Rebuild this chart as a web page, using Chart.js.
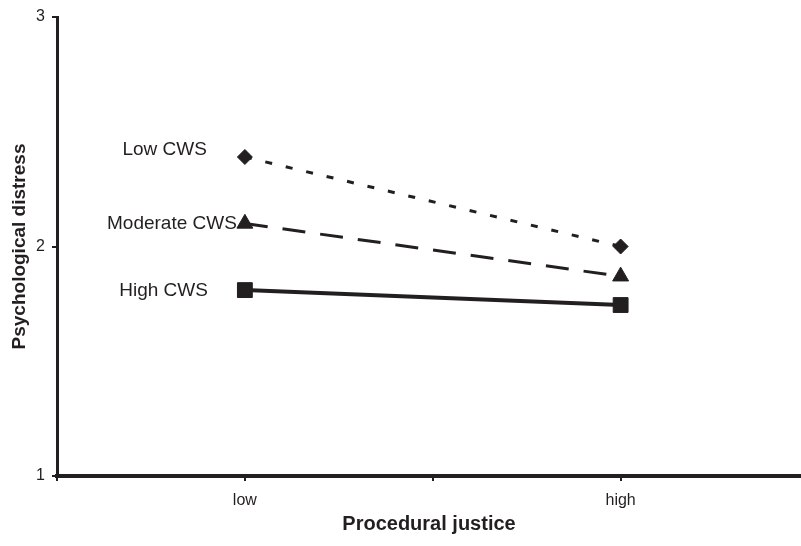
<!DOCTYPE html>
<html>
<head>
<meta charset="utf-8">
<script src="https://cdn.jsdelivr.net/npm/chart.js@4"></script>
<style>
  html, body { margin: 0; padding: 0; background: #fff; }
  #wrap { width: 801px; height: 546px; }
</style>
</head>
<body>
<div id="wrap"><canvas id="myChart"></canvas></div>
<script>
// values
const categories = ["low", "high"];
const categoryX = [1, 3];
const xTickValues = [0, 1, 2, 3];
const xTickLabels = ["", "low", "", "high"];
const yTickValues = [1, 2, 3];

const seriesNames = ["Low CWS", "Moderate CWS", "High CWS"];
const lowCWS = [2.39, 2.00];
const moderateCWS = [2.10, 1.87];
const highCWS = [1.81, 1.745];

const ink = "#231f20";
const font = "'Liberation Sans', Arial, sans-serif";

function points(values) {
    return values.map((v, i) => ({ x: categoryX[i], y: v }));
}

// draws the series names left of the first point of each line
const seriesLabels = {
    id: "seriesLabels",
    afterDatasetsDraw(chart, args, opts) {
        const ctx = chart.ctx;
        ctx.save();
        ctx.font = "19px " + font;
        ctx.fillStyle = ink;
        ctx.textAlign = "right";
        ctx.textBaseline = "middle";
        chart.data.datasets.forEach((ds, i) => {
            const pt = chart.getDatasetMeta(i).data[0];
            const off = opts.offsets[i];
            ctx.fillText(ds.label, pt.x - off[0], pt.y + off[1]);
        });
        ctx.restore();
    }
};

new Chart("myChart", {
    type: "scatter",
    data: {
        datasets: [{
            label: seriesNames[0],
            data: points(lowCWS),
            showLine: true,
            borderColor: ink,
            backgroundColor: ink,
            borderWidth: 3,
            borderDash: [7, 14],
            pointStyle: "rectRot",
            pointRadius: 7.5,
            pointBorderWidth: 1
        }, {
            label: seriesNames[1],
            data: points(moderateCWS),
            showLine: true,
            borderColor: ink,
            backgroundColor: ink,
            borderWidth: 3,
            borderDash: [23, 15],
            pointStyle: "triangle",
            pointRadius: 9.2,
            pointBorderWidth: 1
        }, {
            label: seriesNames[2],
            data: points(highCWS),
            showLine: true,
            borderColor: ink,
            backgroundColor: ink,
            borderWidth: 4,
            pointStyle: "rect",
            pointRadius: 10.5,
            pointBorderWidth: 1
        }]
    },
    options: {
        responsive: true,
        maintainAspectRatio: false,
        animation: false,
        layout: { autoPadding: false, padding: { top: 17, right: 0, left: 0, bottom: 0 } },
        plugins: {
            legend: { display: false },
            tooltip: { enabled: false },
            seriesLabels: { offsets: [[38, -7], [8, 0], [37, 1]] }
        },
        scales: {
            x: {
                type: "linear",
                min: 0,
                max: 3.96,
                afterBuildTicks: (scale) => {
                    scale.ticks = xTickValues.map(v => ({ value: v }));
                },
                afterFit: (scale) => { scale.height = 70; },
                ticks: {
                    callback: (v) => xTickLabels[xTickValues.indexOf(v)] || "",
                    color: ink,
                    font: { family: font, size: 16 },
                    padding: 10,
                    maxRotation: 0
                },
                grid: {
                    drawOnChartArea: false,
                    drawTicks: true,
                    tickLength: 5,
                    lineWidth: 2,
                    color: ink
                },
                border: { display: true, color: ink, width: 4 },
                title: {
                    display: true,
                    text: "Procedural justice",
                    color: ink,
                    font: { family: font, size: 20, weight: "bold" },
                    padding: { top: 0, bottom: 10 }
                }
            },
            y: {
                min: 1,
                max: 3,
                afterBuildTicks: (scale) => {
                    scale.ticks = yTickValues.map(v => ({ value: v }));
                },
                afterFit: (scale) => { scale.width = 57; },
                ticks: {
                    color: ink,
                    font: { family: font, size: 16 },
                    padding: 7
                },
                grid: {
                    drawOnChartArea: false,
                    drawTicks: true,
                    tickLength: 5,
                    lineWidth: 2,
                    color: ink
                },
                border: { display: true, color: ink, width: 3 },
                title: {
                    display: true,
                    text: "Psychological distress",
                    color: ink,
                    font: { family: font, size: 19, weight: "bold" },
                    padding: { top: 8, bottom: 0 }
                }
            }
        }
    },
    plugins: [seriesLabels]
});
</script>
</body>
</html>
